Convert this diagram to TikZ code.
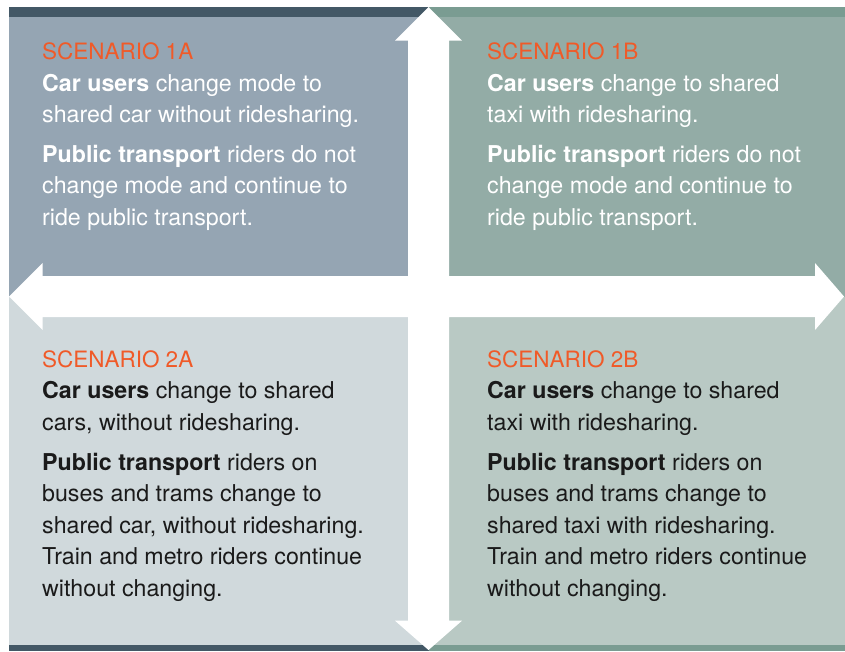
\documentclass[tikz,border=0pt]{standalone}
\usepackage{fontspec}
\setmainfont{TeX Gyre Heros}
\usetikzlibrary{positioning}
\definecolor{slate}{HTML}{435866}
\definecolor{sage}{HTML}{7A9C92}
\definecolor{quadA}{HTML}{95A5B3}
\definecolor{quadB}{HTML}{93ACA6}
\definecolor{quadC}{HTML}{D0D9DC}
\definecolor{quadD}{HTML}{B9C9C4}
\definecolor{scenred}{HTML}{F05A28}
\definecolor{ink}{HTML}{1A1A1A}
\tikzstyle{panel} = [inner sep=0pt, anchor=north west, align=left, font=\fontsize{23.2}{31.6}\selectfont]
\newcommand{\scen}[1]{\strut{\fontsize{22.5}{31.6}\selectfont\textcolor{scenred}{SCENARIO #1}}}
\newcommand{\who}[1]{\textbf{#1}}

\begin{document}
\begin{tikzpicture}[x=1pt, y=-1pt]
\useasboundingbox (0,0) rectangle (845,651);
\fill[quadA] (9,17) rectangle (428.5,296.5);
\fill[quadB] (428.5,17) rectangle (845,296.5);
\fill[quadC] (9,296.5) rectangle (428.5,645);
\fill[quadD] (428.5,296.5) rectangle (845,645);
\fill[slate] (9,7) rectangle (428.5,17);
\fill[sage] (428.5,7) rectangle (845,17);
\fill[slate] (9,645) rectangle (428.5,651);
\fill[sage] (428.5,645) rectangle (845,651);
\fill[white] (428.5,7) -- (462,40.7) -- (449,40.7) -- (449,276) -- (815,276)
  -- (815,263) -- (844,296.5) -- (815,330) -- (815,317) -- (449,317)
  -- (449,620.7) -- (462,620.7) -- (428.5,650) -- (395,620.7) -- (408,620.7)
  -- (408,317) -- (42.7,317) -- (42.7,330) -- (9,296.5) -- (42.7,263)
  -- (42.7,276) -- (408,276) -- (408,40.7) -- (395,40.7) -- cycle;
\node (s1a) [panel, text=white] at (42,37.2) {\scen{1A}\\
  \who{Car users} change mode to\\
  shared car without ridesharing.\\[8pt]
  \who{Public transport} riders do not\\
  change mode and continue to\\
  ride public transport.};
\node (s1b) [panel, text=white] at (487,37.2) {\scen{1B}\\
  \who{Car users} change to shared\\
  taxi with ridesharing.\\[8pt]
  \who{Public transport} riders do not\\
  change mode and continue to\\
  ride public transport.};
\node (s2a) [panel, text=ink] at (42,344.9) {\scen{2A}\\
  \who{Car users} change to shared\\
  cars, without ridesharing.\\[8pt]
  \who{Public transport} riders on\\
  buses and trams change to\\
  shared car, without ridesharing.\\
  Train and metro riders continue\\
  without changing.};
\node (s2b) [panel, text=ink] at (487,344.9) {\scen{2B}\\
  \who{Car users} change to shared\\
  taxi with ridesharing.\\[8pt]
  \who{Public transport} riders on\\
  buses and trams change to\\
  shared taxi with ridesharing.\\
  Train and metro riders continue\\
  without changing.};
\end{tikzpicture}
\end{document}
